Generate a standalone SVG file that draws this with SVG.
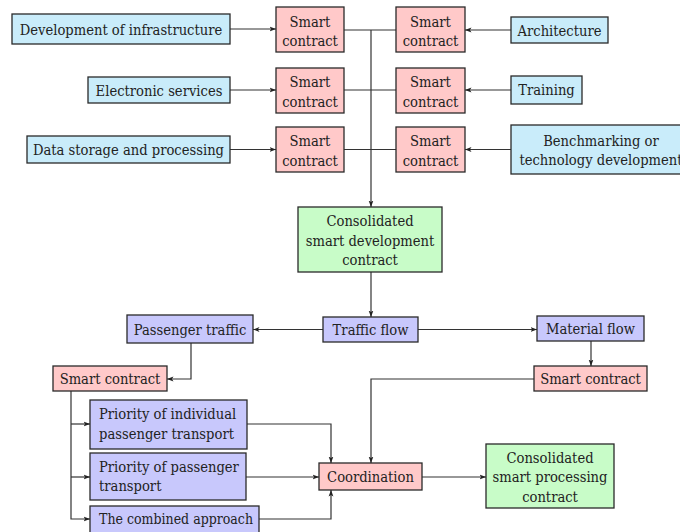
<svg xmlns="http://www.w3.org/2000/svg" width="680" height="532" viewBox="0 0 680 532">
<defs>
<marker id="ah" markerWidth="7" markerHeight="6" refX="6.5" refY="3" orient="auto" markerUnits="userSpaceOnUse">
<path d="M0,0.6 L6.5,3 L0,5.4 L1.6,3 Z" fill="#222"/>
</marker>
<style>
rect{stroke:#2a2a2a;stroke-width:1.3}
.b{fill:#c9ecfa}
.p{fill:#ffc9c9}
.v{fill:#c8c8fc}
.g{fill:#c8fcc8}
text{font-family:"DejaVu Serif Condensed","DejaVu Serif",serif;font-stretch:condensed;font-size:14.6px;fill:#222}
.c{text-anchor:middle}
#conn path{fill:none;stroke:#333;stroke-width:1.2}
#conn path.a{marker-end:url(#ah)}
</style>
</defs>
<rect width="680" height="532" fill="#fff" style="stroke:none"/>
<g id="conn">
<path class="a" d="M230,29 H276"/>
<path class="a" d="M230,90 H276"/>
<path class="a" d="M230,149.5 H276"/>
<path class="a" d="M511,30 H465"/>
<path class="a" d="M511,90 H465"/>
<path class="a" d="M511,149.5 H465"/>
<path d="M344,30 H396"/>
<path d="M344,90 H396"/>
<path d="M344,149.5 H396"/>
<path class="a" d="M371,30 V207"/>
<path class="a" d="M371,272 V317"/>
<path class="a" d="M323,329.5 H253"/>
<path class="a" d="M418,329.5 H537"/>
<path class="a" d="M191,343 V379 H167"/>
<path class="a" d="M591,341 V366"/>
<path class="a" d="M534,379 H371 V463"/>
<path class="a" d="M71,391 V519 H90"/>
<path class="a" d="M71,424 H90"/>
<path class="a" d="M71,477 H90"/>
<path class="a" d="M247,424 H331 V463"/>
<path class="a" d="M246,477 H319"/>
<path class="a" d="M259,519 H331 V490"/>
<path class="a" d="M422,477 H486"/>
</g>
<g id="dev"><rect class="b" x="12" y="14" width="218" height="30"/><text class="c" x="121" y="34.5">Development of infrastructure</text></g>
<g id="elec"><rect class="b" x="88" y="77" width="142" height="26"/><text class="c" x="159" y="95.5">Electronic services</text></g>
<g id="data"><rect class="b" x="27" y="136" width="203" height="27"/><text class="c" x="128.5" y="155">Data storage and processing</text></g>
<g id="sc1"><rect class="p" x="276" y="7" width="68" height="45"/><text class="c" x="310" y="26.5">Smart</text><text class="c" x="310" y="46">contract</text></g>
<g id="sc2"><rect class="p" x="276" y="68" width="68" height="45"/><text class="c" x="310" y="87">Smart</text><text class="c" x="310" y="106.5">contract</text></g>
<g id="sc3"><rect class="p" x="276" y="127" width="68" height="45"/><text class="c" x="310" y="146">Smart</text><text class="c" x="310" y="165.5">contract</text></g>
<g id="sc4"><rect class="p" x="396" y="7" width="69" height="45"/><text class="c" x="430.5" y="26.5">Smart</text><text class="c" x="430.5" y="46">contract</text></g>
<g id="sc5"><rect class="p" x="396" y="68" width="69" height="45"/><text class="c" x="430.5" y="87">Smart</text><text class="c" x="430.5" y="106.5">contract</text></g>
<g id="sc6"><rect class="p" x="396" y="127" width="69" height="45"/><text class="c" x="430.5" y="146">Smart</text><text class="c" x="430.5" y="165.5">contract</text></g>
<g id="arch"><rect class="b" x="511" y="17" width="97" height="26"/><text class="c" x="559.5" y="35.5">Architecture</text></g>
<g id="train"><rect class="b" x="511" y="76" width="71" height="28"/><text class="c" x="546.5" y="95">Training</text></g>
<g id="bench"><rect class="b" x="511" y="125" width="180" height="49"/><text class="c" x="601" y="145.5">Benchmarking or</text><text class="c" x="601" y="165">technology development</text></g>
<g id="cons1"><rect class="g" x="298" y="207" width="144" height="65"/><text class="c" x="370" y="226">Consolidated</text><text class="c" x="370" y="245.5">smart development</text><text class="c" x="370" y="265">contract</text></g>
<g id="traffic"><rect class="v" x="323" y="317" width="95" height="25"/><text class="c" x="370.5" y="335">Traffic flow</text></g>
<g id="pass"><rect class="v" x="127" y="315" width="126" height="28"/><text class="c" x="190" y="334.5">Passenger traffic</text></g>
<g id="mat"><rect class="v" x="537" y="316" width="107" height="25"/><text class="c" x="590.5" y="334">Material flow</text></g>
<g id="scl"><rect class="p" x="53" y="366" width="114" height="25"/><text class="c" x="110" y="384">Smart contract</text></g>
<g id="scr"><rect class="p" x="534" y="366" width="113" height="25"/><text class="c" x="590.5" y="384">Smart contract</text></g>
<g id="prio1"><rect class="v" x="90" y="400" width="157" height="49"/><text x="99" y="419">Priority of individual</text><text x="99" y="439">passenger transport</text></g>
<g id="prio2"><rect class="v" x="90" y="453" width="156" height="47"/><text x="99" y="471.5">Priority of passenger</text><text x="99" y="491">transport</text></g>
<g id="comb"><rect class="v" x="90" y="506" width="169" height="30"/><text x="99" y="524" textLength="154" lengthAdjust="spacingAndGlyphs">The combined approach</text></g>
<g id="coord"><rect class="p" x="319" y="463" width="103" height="27"/><text class="c" x="370.5" y="481.5">Coordination</text></g>
<g id="cons2"><rect class="g" x="486" y="444" width="128" height="64"/><text class="c" x="550" y="462.5">Consolidated</text><text class="c" x="550" y="482">smart processing</text><text class="c" x="550" y="501.5">contract</text></g>
</svg>
